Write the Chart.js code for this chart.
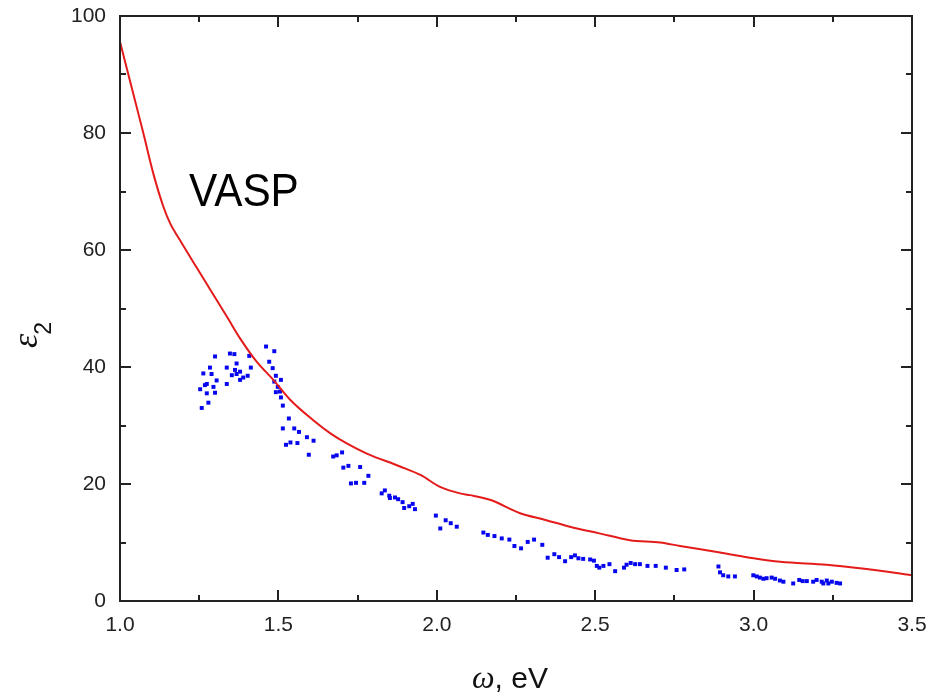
<!DOCTYPE html>
<html>
<head>
<meta charset="utf-8">
<script src="https://cdn.jsdelivr.net/npm/chart.js@4/dist/chart.umd.min.js"></script>
<style>
html,body{margin:0;padding:0;background:#fff;}
canvas{display:block;}
</style>
</head>
<body>
<canvas id="c" width="938" height="695"></canvas>
<script>
// ---- data ----
const vaspX = [1.0,1.05,1.074,1.105,1.137,1.158,1.189,1.242,1.284,1.342,1.379,1.43,1.484,1.537,1.61,1.663,1.72,1.779,1.884,1.95,2.01,2.073,2.105,2.168,2.263,2.34,2.42,2.51,2.61,2.705,2.768,2.894,3.0,3.084,3.231,3.336,3.5];
const vaspY = [95.6,85.0,79.9,73.1,67.4,64.6,61.7,57.0,53.3,48.2,44.9,41.0,37.8,34.4,30.9,28.7,26.8,25.2,23.0,21.5,19.5,18.4,18.1,17.3,15.0,13.9,12.7,11.6,10.4,10.0,9.4,8.3,7.3,6.7,6.2,5.6,4.4];

const expX = [1.253,1.258,1.263,1.268,1.274,1.274,1.279,1.284,1.289,1.295,1.300,1.300,1.305,1.337,1.337,1.347,1.353,1.361,1.363,1.368,1.368,1.379,1.379,1.389,1.403,1.408,1.413,1.461,1.471,1.482,1.487,1.487,1.492,1.492,1.498,1.505,1.508,1.508,1.514,1.514,1.524,1.533,1.538,1.550,1.560,1.565,1.590,1.596,1.611,1.673,1.684,1.701,1.705,1.721,1.729,1.745,1.758,1.771,1.784,1.826,1.836,1.850,1.852,1.868,1.878,1.892,1.897,1.913,1.924,1.931,1.997,2.011,2.028,2.044,2.063,2.147,2.161,2.182,2.205,2.229,2.245,2.266,2.287,2.307,2.333,2.350,2.371,2.386,2.405,2.424,2.436,2.447,2.462,2.484,2.496,2.505,2.513,2.526,2.545,2.563,2.591,2.599,2.612,2.626,2.641,2.665,2.691,2.723,2.757,2.781,2.889,2.894,2.904,2.920,2.941,2.999,3.010,3.020,3.031,3.041,3.057,3.068,3.083,3.094,3.125,3.144,3.155,3.168,3.188,3.199,3.215,3.220,3.231,3.236,3.247,3.262,3.273];
const expY = [36.2,33.0,38.9,36.9,37.1,35.5,33.9,39.9,38.8,36.6,41.8,35.6,37.7,39.9,37.1,42.3,38.6,42.2,39.5,40.6,38.8,39.2,37.8,38.2,38.5,41.9,39.9,43.5,40.9,39.8,42.7,37.5,38.5,35.7,36.6,35.8,37.8,34.8,33.4,29.5,26.7,31.2,27.1,29.5,27.0,28.9,28.0,25.0,27.4,24.7,24.9,25.4,22.8,23.1,20.1,20.2,22.9,20.2,21.4,18.4,18.9,18.0,17.6,17.7,17.4,16.9,15.9,16.2,16.6,15.7,14.6,12.4,13.8,13.3,12.7,11.7,11.3,11.1,10.7,10.5,9.4,9.0,10.1,10.5,9.6,7.4,8.0,7.5,6.8,7.5,7.8,7.3,7.2,7.1,6.9,6.0,5.7,6.0,6.3,5.1,5.7,6.2,6.5,6.3,6.3,6.0,6.0,5.7,5.3,5.4,5.9,4.9,4.4,4.2,4.2,4.4,4.2,4.0,3.8,3.9,4.0,3.8,3.5,3.3,3.0,3.6,3.4,3.4,3.3,3.6,3.3,3.0,3.5,3.0,3.3,3.1,3.0];

const xTicks = [1.0,1.5,2.0,2.5,3.0,3.5];
const yTicks = [0,20,40,60,80,100];
const xMinor = [1.25,1.75,2.25,2.75,3.25];
const yMinor = [10,30,50,70,90];
const labelText = "VASP";
const labelPos = [1.218, 67.5];

const AXIS = '#222';

const framePlugin = {
  id: 'frame',
  afterDatasetsDraw(chart) {
    const {ctx, chartArea: a, scales: {x, y}} = chart;
    ctx.save();
    ctx.strokeStyle = AXIS;
    ctx.lineWidth = 2;
    ctx.lineCap = 'butt';
    ctx.strokeRect(a.left, a.top, a.right - a.left, a.bottom - a.top);
    ctx.beginPath();
    const tick = (v, len, isX) => {
      if (isX) {
        const px = Math.round(x.getPixelForValue(v));
        ctx.moveTo(px, a.bottom); ctx.lineTo(px, a.bottom - len);
        ctx.moveTo(px, a.top); ctx.lineTo(px, a.top + len);
      } else {
        const py = Math.round(y.getPixelForValue(v));
        ctx.moveTo(a.left, py); ctx.lineTo(a.left + len, py);
        ctx.moveTo(a.right, py); ctx.lineTo(a.right - len, py);
      }
    };
    xTicks.forEach(v => tick(v, 11, true));
    xMinor.forEach(v => tick(v, 6, true));
    yTicks.forEach(v => tick(v, 11, false));
    yMinor.forEach(v => tick(v, 6, false));
    ctx.stroke();

    // VASP label
    ctx.save();
    ctx.fillStyle = '#000';
    ctx.font = '46px "Liberation Sans", Arial, sans-serif';
    ctx.textBaseline = 'alphabetic';
    ctx.textAlign = 'left';
    ctx.translate(x.getPixelForValue(labelPos[0]), y.getPixelForValue(labelPos[1]));
    ctx.scale(0.92, 1);
    ctx.fillText(labelText, 0, 0);
    ctx.restore();

    // x title: ω, eV
    const omegaFont = 'italic 32px "Liberation Serif", "DejaVu Serif", serif';
    const restFont = '30px "Liberation Sans", Arial, sans-serif';
    ctx.font = omegaFont;
    const w1 = ctx.measureText('\u03C9').width;
    ctx.font = restFont;
    const w2 = ctx.measureText(', eV').width;
    const cx = (a.left + a.right) / 2 - 6;
    let sx = cx - (w1 + w2) / 2;
    const by = 688;
    ctx.fillStyle = '#111';
    ctx.font = omegaFont; ctx.fillText('\u03C9', sx, by);
    ctx.font = restFont; ctx.fillText(', eV', sx + w1, by);

    // y title: ε2
    ctx.translate(37, 335);
    ctx.rotate(-Math.PI / 2);
    const epsFont = 'italic 36px "Liberation Serif", "DejaVu Serif", serif';
    ctx.font = epsFont;
    const we = ctx.measureText('\u03B5').width;
    ctx.fillText('\u03B5', -13, 0);
    ctx.font = '23px "Liberation Sans", Arial, sans-serif';
    ctx.fillText('2', -13 + we - 1, 14);
    ctx.restore();
  }
};

const tickFont = {family: '"Liberation Sans", Arial, sans-serif', size: 21};

new Chart(document.getElementById('c'), {
  type: 'scatter',
  data: {
    datasets: [
      {
        label: 'VASP',
        data: vaspX.map((v, i) => ({x: v, y: vaspY[i]})),
        showLine: true,
        borderColor: '#e41b1b',
        borderWidth: 2,
        pointRadius: 0,
        cubicInterpolationMode: 'monotone',
        fill: false,
        order: 1
      },
      {
        label: 'experiment',
        data: expX.map((v, i) => ({x: v, y: expY[i]})),
        showLine: false,
        pointStyle: 'rect',
        pointRadius: 2.8,
        pointBorderWidth: 0,
        backgroundColor: '#0505ee',
        borderColor: '#0505ee',
        order: 2
      }
    ]
  },
  options: {
    responsive: false,
    animation: false,
    devicePixelRatio: 1,
    layout: {padding: {top: 16, right: 26, left: 0, bottom: 0}},
    plugins: {legend: {display: false}, tooltip: {enabled: false}},
    scales: {
      x: {
        type: 'linear',
        min: 1.0, max: 3.5,
        afterFit(s) { s.height = 94; s.paddingLeft = 0; s.paddingRight = 0; },
        afterBuildTicks(s) { s.ticks = xTicks.map(v => ({value: v})); },
        grid: {display: false, drawTicks: false},
        border: {display: false},
        ticks: {
          font: tickFont, color: AXIS, padding: 12, maxRotation: 0,
          callback: v => Number(v).toFixed(1)
        }
      },
      y: {
        type: 'linear',
        min: 0, max: 100,
        afterFit(s) { s.width = 120; s.paddingTop = 0; s.paddingBottom = 0; },
        afterBuildTicks(s) { s.ticks = yTicks.map(v => ({value: v})); },
        grid: {display: false, drawTicks: false},
        border: {display: false},
        ticks: {font: tickFont, color: AXIS, padding: 14, callback: v => String(v)}
      }
    }
  },
  plugins: [framePlugin]
});
</script>
</body>
</html>
